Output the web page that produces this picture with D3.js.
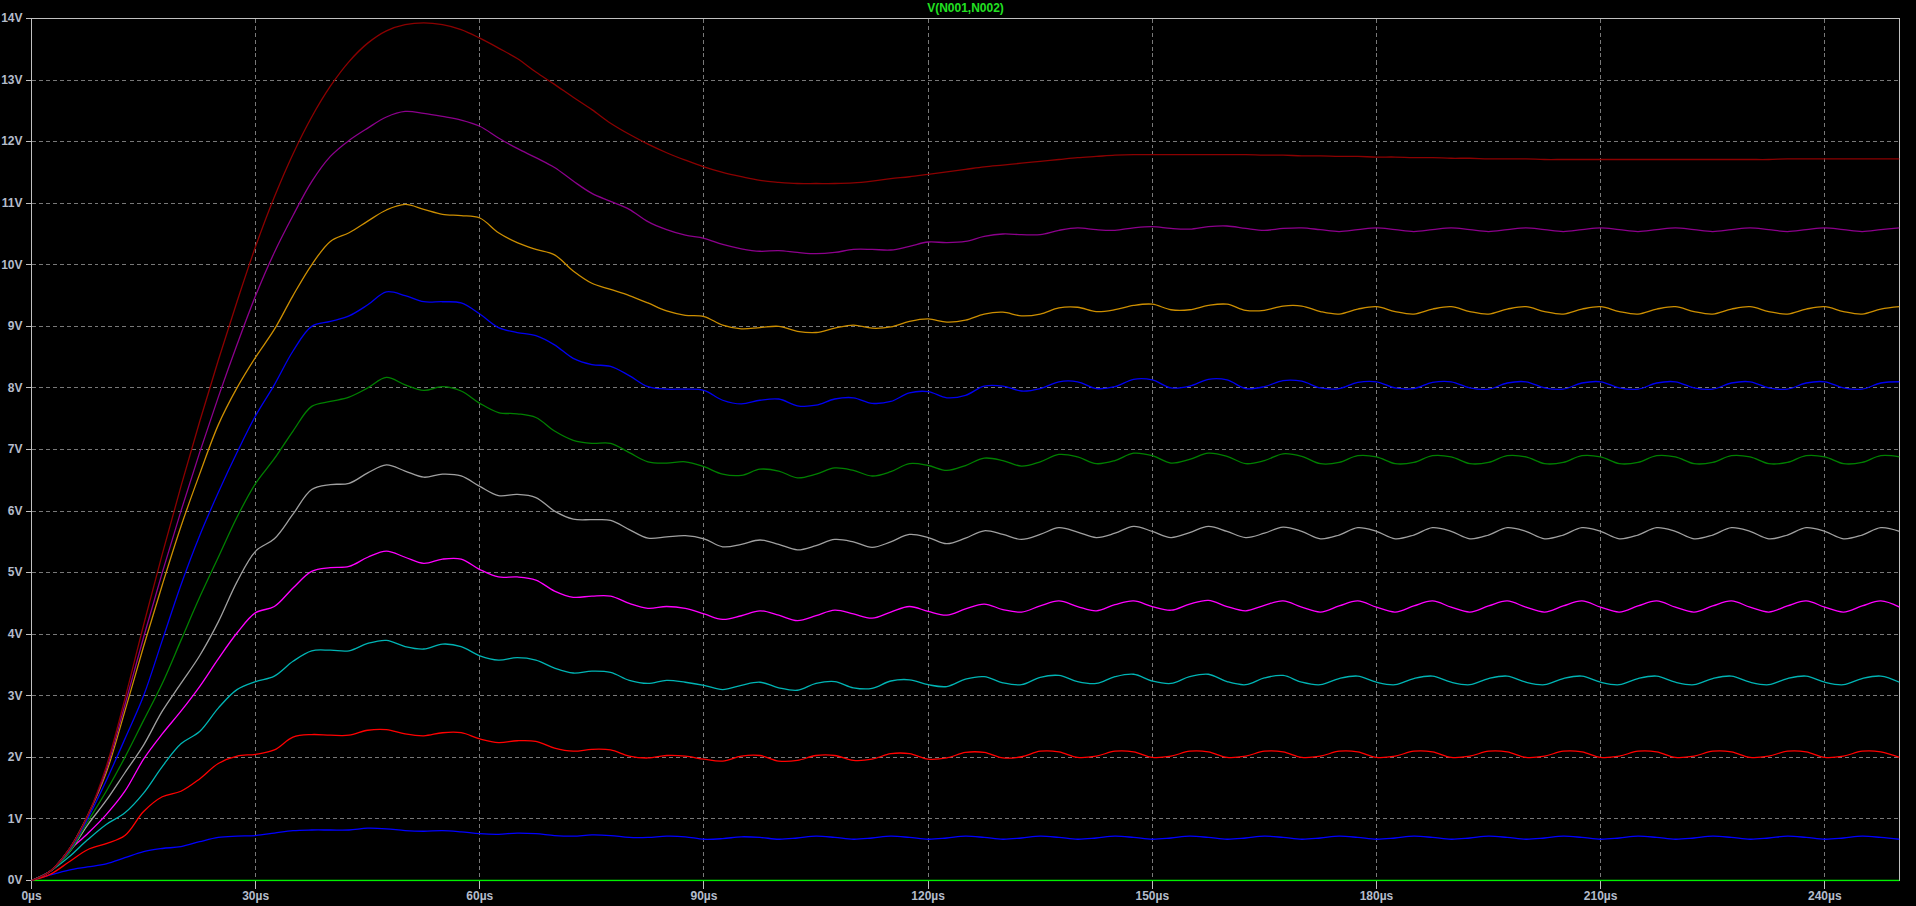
<!DOCTYPE html>
<html>
<head>
<meta charset="utf-8">
<title>V(N001,N002)</title>
<script src="https://cdn.jsdelivr.net/npm/d3@7"></script>
<style>
html, body { margin: 0; padding: 0; background: #000; overflow: hidden; }
svg { display: block; }
.tick text { font-family: "Liberation Sans", Arial, sans-serif; font-size: 12px; font-weight: bold; fill: #b4bccb; }
.tick line { stroke: #c0c0c0; shape-rendering: crispEdges; }
</style>
</head>
<body>
<svg id="chart" width="1916" height="906"></svg>
<script>
// axis ticks
var voltTicks = [0, 1, 2, 3, 4, 5, 6, 7, 8, 9, 10, 11, 12, 13, 14];
var timeTicks = [0, 30, 60, 90, 120, 150, 180, 210, 240];

// sample times (µs)
var times = [0, 2.5, 5, 7.5, 10, 12.5, 15, 17.5, 20, 22.5,
  25, 27.5, 30, 32.5, 35, 37.5, 40, 42.5, 45, 47.5,
  50, 52.5, 55, 57.5, 60, 62.5, 65, 67.5, 70, 72.5,
  75, 77.5, 80, 82.5, 85, 87.5, 90, 92.5, 95, 97.5,
  100, 102.5, 105, 107.5, 110, 112.5, 115, 117.5, 120, 122.5,
  125, 127.5, 130, 132.5, 135, 137.5, 140, 142.5, 145, 147.5,
  150, 152.5, 155, 157.5, 160, 162.5, 165, 167.5, 170, 172.5,
  175, 177.5, 180, 182.5, 185, 187.5, 190, 192.5, 195, 197.5,
  200, 202.5, 205, 207.5, 210, 212.5, 215, 217.5, 220, 222.5,
  225, 227.5, 230, 232.5, 235, 237.5, 240, 242.5, 245, 247.5,
  250];

var zeroTimes = [0, 250];
var vZero = [0, 0];

var vBlue = [0, 0.09, 0.17, 0.22, 0.27, 0.37, 0.47, 0.52, 0.55, 0.63,
  0.7, 0.72, 0.73, 0.77, 0.81, 0.82, 0.82, 0.82, 0.85, 0.84,
  0.81, 0.8, 0.81, 0.79, 0.76, 0.75, 0.77, 0.76, 0.73, 0.72,
  0.74, 0.73, 0.7, 0.7, 0.72, 0.71, 0.67, 0.68, 0.71, 0.7,
  0.67, 0.69, 0.72, 0.7, 0.67, 0.69, 0.72, 0.7, 0.67, 0.69,
  0.72, 0.7, 0.67, 0.69, 0.72, 0.7, 0.67, 0.69, 0.72, 0.7,
  0.67, 0.69, 0.72, 0.7, 0.67, 0.69, 0.72, 0.7, 0.67, 0.69,
  0.72, 0.7, 0.67, 0.69, 0.72, 0.7, 0.67, 0.69, 0.72, 0.7,
  0.67, 0.69, 0.72, 0.7, 0.67, 0.69, 0.72, 0.7, 0.67, 0.69,
  0.72, 0.7, 0.67, 0.69, 0.72, 0.7, 0.67, 0.69, 0.72, 0.7,
  0.67];

var vRed = [0, 0.1, 0.3, 0.5, 0.6, 0.73, 1.12, 1.36, 1.45, 1.65,
  1.9, 2.02, 2.05, 2.12, 2.33, 2.37, 2.36, 2.36, 2.44, 2.45,
  2.38, 2.35, 2.4, 2.4, 2.3, 2.24, 2.27, 2.26, 2.15, 2.1,
  2.13, 2.12, 2.02, 1.99, 2.03, 2.02, 1.97, 1.94, 2.02, 2.03,
  1.94, 1.95, 2.03, 2.03, 1.95, 1.97, 2.06, 2.06, 1.97, 1.99,
  2.08, 2.08, 1.99, 2.01, 2.1, 2.09, 2.0, 2.02, 2.1, 2.09,
  2.0, 2.02, 2.1, 2.09, 2.0, 2.02, 2.1, 2.09, 2.0, 2.02,
  2.1, 2.09, 2.0, 2.02, 2.1, 2.09, 2.0, 2.02, 2.1, 2.09,
  2.0, 2.02, 2.1, 2.09, 2.0, 2.02, 2.1, 2.09, 2.0, 2.02,
  2.1, 2.09, 2.0, 2.02, 2.1, 2.09, 2.0, 2.02, 2.1, 2.09,
  2.0];

var vCyan = [0, 0.15, 0.38, 0.66, 0.91, 1.1, 1.42, 1.85, 2.22, 2.42,
  2.8, 3.1, 3.23, 3.32, 3.56, 3.73, 3.74, 3.73, 3.85, 3.9,
  3.8, 3.76, 3.84, 3.8, 3.65, 3.58, 3.62, 3.58, 3.45, 3.37,
  3.4, 3.38, 3.25, 3.2, 3.25, 3.22, 3.17, 3.1, 3.17, 3.22,
  3.13, 3.09, 3.2, 3.23, 3.13, 3.12, 3.24, 3.26, 3.18, 3.15,
  3.27, 3.31, 3.21, 3.18, 3.3, 3.33, 3.23, 3.2, 3.31, 3.35,
  3.24, 3.2, 3.31, 3.35, 3.23, 3.18, 3.29, 3.33, 3.22, 3.18,
  3.28, 3.32, 3.22, 3.18, 3.28, 3.32, 3.22, 3.18, 3.28, 3.32,
  3.22, 3.18, 3.28, 3.32, 3.22, 3.18, 3.28, 3.32, 3.22, 3.18,
  3.28, 3.32, 3.22, 3.18, 3.28, 3.32, 3.22, 3.18, 3.28, 3.32,
  3.22];

var vMagenta = [0, 0.15, 0.48, 0.76, 1.07, 1.45, 1.97, 2.38, 2.75, 3.15,
  3.6, 4.02, 4.35, 4.45, 4.75, 5.02, 5.08, 5.1, 5.25, 5.35,
  5.25, 5.15, 5.22, 5.22, 5.05, 4.93, 4.93, 4.88, 4.7, 4.6,
  4.62, 4.62, 4.5, 4.42, 4.45, 4.42, 4.33, 4.24, 4.3, 4.38,
  4.31, 4.22, 4.3, 4.39, 4.33, 4.26, 4.36, 4.45, 4.37, 4.31,
  4.41, 4.49, 4.4, 4.36, 4.46, 4.54, 4.45, 4.38, 4.48, 4.54,
  4.45, 4.39, 4.49, 4.55, 4.45, 4.38, 4.47, 4.54, 4.44, 4.36,
  4.46, 4.54, 4.44, 4.36, 4.46, 4.54, 4.44, 4.36, 4.46, 4.54,
  4.44, 4.36, 4.46, 4.54, 4.44, 4.36, 4.46, 4.54, 4.44, 4.36,
  4.46, 4.54, 4.44, 4.36, 4.46, 4.54, 4.44, 4.36, 4.46, 4.54,
  4.44];

var vGray = [0, 0.15, 0.45, 0.9, 1.3, 1.75, 2.2, 2.75, 3.2, 3.65,
  4.2, 4.85, 5.35, 5.55, 5.95, 6.35, 6.43, 6.45, 6.62, 6.75,
  6.65, 6.55, 6.6, 6.57, 6.4, 6.25, 6.27, 6.22, 6.0, 5.87,
  5.86, 5.85, 5.7, 5.56, 5.58, 5.6, 5.55, 5.42, 5.46, 5.53,
  5.46, 5.37, 5.44, 5.54, 5.5, 5.41, 5.5, 5.62, 5.57, 5.47,
  5.56, 5.68, 5.62, 5.54, 5.62, 5.73, 5.66, 5.57, 5.64, 5.75,
  5.67, 5.57, 5.65, 5.75, 5.67, 5.57, 5.64, 5.74, 5.67, 5.55,
  5.61, 5.73, 5.67, 5.55, 5.61, 5.73, 5.67, 5.55, 5.61, 5.73,
  5.67, 5.55, 5.61, 5.73, 5.67, 5.55, 5.61, 5.73, 5.67, 5.55,
  5.61, 5.73, 5.67, 5.55, 5.61, 5.73, 5.67, 5.55, 5.61, 5.73,
  5.67];

var vGreen = [0, 0.15, 0.45, 0.95, 1.45, 2.0, 2.6, 3.2, 3.9, 4.6,
  5.25, 5.9, 6.45, 6.85, 7.3, 7.7, 7.78, 7.85, 8.0, 8.17,
  8.05, 7.96, 8.02, 7.95, 7.75, 7.6, 7.58, 7.52, 7.3, 7.15,
  7.1, 7.1, 6.95, 6.8, 6.78, 6.8, 6.72, 6.6, 6.58, 6.68,
  6.65, 6.54, 6.6, 6.7, 6.66, 6.57, 6.64, 6.77, 6.74, 6.66,
  6.74, 6.86, 6.82, 6.73, 6.8, 6.92, 6.88, 6.77, 6.82, 6.94,
  6.9, 6.78, 6.84, 6.94, 6.89, 6.77, 6.82, 6.93, 6.89, 6.77,
  6.79, 6.9, 6.88, 6.77, 6.79, 6.9, 6.88, 6.77, 6.79, 6.9,
  6.88, 6.77, 6.79, 6.9, 6.88, 6.77, 6.79, 6.9, 6.88, 6.77,
  6.79, 6.9, 6.88, 6.77, 6.79, 6.9, 6.88, 6.77, 6.79, 6.9,
  6.88];

var vBlue8 = [0, 0.15, 0.48, 1.0, 1.62, 2.3, 3.0, 3.9, 4.8, 5.6,
  6.3, 6.95, 7.55, 8.05, 8.6, 9.0, 9.08, 9.17, 9.35, 9.56,
  9.5, 9.4, 9.4, 9.38, 9.2, 8.98, 8.9, 8.85, 8.7, 8.48,
  8.38, 8.35, 8.2, 8.02, 7.98, 7.98, 7.96, 7.8, 7.74, 7.8,
  7.82, 7.71, 7.72, 7.82, 7.84, 7.75, 7.78, 7.92, 7.94, 7.84,
  7.88, 8.03, 8.03, 7.95, 7.99, 8.1, 8.1, 7.99, 8.02, 8.14,
  8.13, 8.0, 8.03, 8.14, 8.13, 7.99, 8.02, 8.12, 8.11, 8.0,
  7.99, 8.09, 8.1, 8.0, 7.99, 8.09, 8.1, 8.0, 7.98, 8.08,
  8.1, 8.0, 7.98, 8.08, 8.1, 8.0, 7.98, 8.08, 8.1, 8.0,
  7.98, 8.08, 8.1, 8.0, 7.98, 8.08, 8.1, 8.0, 7.98, 8.08,
  8.1];

var vOrange = [0, 0.15, 0.5, 1.05, 1.75, 2.75, 3.8, 4.8, 5.75, 6.6,
  7.4, 8.0, 8.5, 8.95, 9.5, 10.0, 10.38, 10.52, 10.71, 10.89,
  10.98, 10.9, 10.82, 10.8, 10.76, 10.52, 10.36, 10.25, 10.16, 9.9,
  9.7, 9.6, 9.5, 9.38, 9.25, 9.18, 9.16, 9.02, 8.96, 8.98,
  9.0, 8.92, 8.9, 8.97, 9.02, 8.97, 8.99, 9.08, 9.12, 9.07,
  9.1, 9.2, 9.23, 9.17, 9.2, 9.3, 9.31, 9.24, 9.27, 9.34,
  9.36, 9.27, 9.27, 9.34, 9.36, 9.26, 9.26, 9.33, 9.33, 9.24,
  9.2, 9.28, 9.32, 9.24, 9.2, 9.28, 9.32, 9.24, 9.2, 9.28,
  9.32, 9.24, 9.2, 9.28, 9.32, 9.24, 9.2, 9.28, 9.32, 9.24,
  9.2, 9.28, 9.32, 9.24, 9.2, 9.28, 9.32, 9.24, 9.2, 9.28,
  9.32];

var vPurple = [0, 0.15, 0.5, 1.05, 1.8, 2.85, 3.95, 5.0, 6.0, 6.95,
  7.85, 8.7, 9.5, 10.2, 10.8, 11.35, 11.76, 12.02, 12.22, 12.4,
  12.49, 12.46, 12.41, 12.35, 12.25, 12.06, 11.89, 11.74, 11.58, 11.36,
  11.16, 11.03, 10.9, 10.7, 10.57, 10.48, 10.43, 10.33, 10.26, 10.22,
  10.23, 10.2, 10.18, 10.2, 10.25, 10.25, 10.24, 10.3, 10.37, 10.36,
  10.38, 10.46, 10.5, 10.49, 10.49, 10.56, 10.6, 10.57, 10.56, 10.6,
  10.62, 10.59, 10.58, 10.62, 10.63, 10.59, 10.56, 10.59, 10.6, 10.57,
  10.54, 10.57, 10.6, 10.57, 10.54, 10.57, 10.6, 10.57, 10.54, 10.57,
  10.6, 10.57, 10.54, 10.57, 10.6, 10.57, 10.54, 10.57, 10.6, 10.57,
  10.54, 10.57, 10.6, 10.57, 10.54, 10.57, 10.6, 10.57, 10.54, 10.57,
  10.6];

var vDarkRed = [0, 0.15, 0.5, 1.05, 1.85, 2.95, 4.15, 5.3, 6.4, 7.45,
  8.45, 9.4, 10.3, 11.1, 11.8, 12.4, 12.9, 13.3, 13.6, 13.8,
  13.9, 13.93, 13.9, 13.82, 13.68, 13.52, 13.35, 13.13, 12.93, 12.72,
  12.52, 12.3, 12.12, 11.96, 11.82, 11.7, 11.59, 11.5, 11.43, 11.37,
  11.34, 11.32, 11.32, 11.32, 11.33, 11.36, 11.4, 11.43, 11.47, 11.51,
  11.55, 11.59, 11.62, 11.65, 11.68, 11.71, 11.74, 11.76, 11.78, 11.79,
  11.79, 11.79, 11.79, 11.79, 11.79, 11.79, 11.78, 11.78, 11.77, 11.77,
  11.76, 11.76, 11.75, 11.75, 11.74, 11.74, 11.73, 11.73, 11.72, 11.72,
  11.72, 11.71, 11.71, 11.71, 11.71, 11.71, 11.71, 11.71, 11.71, 11.71,
  11.71, 11.71, 11.71, 11.71, 11.72, 11.72, 11.72, 11.72, 11.72, 11.72,
  11.72];

var series = [
  { t: zeroTimes, v: vZero, color: "#00f000" },
  { t: times, v: vBlue, color: "#0000ff" },
  { t: times, v: vRed, color: "#ff0000" },
  { t: times, v: vCyan, color: "#00b4b4" },
  { t: times, v: vMagenta, color: "#ff00ff" },
  { t: times, v: vGray, color: "#a0a0a0" },
  { t: times, v: vGreen, color: "#008000" },
  { t: times, v: vBlue8, color: "#0000f0" },
  { t: times, v: vOrange, color: "#cc8e00" },
  { t: times, v: vPurple, color: "#8c008c" },
  { t: times, v: vDarkRed, color: "#8b0000" }
];

var svg = d3.select("#chart");
var x = d3.scaleLinear().domain([0, 250]).range([31.5, 1899.5]);
var y = d3.scaleLinear().domain([0, 14]).range([880.5, 18.5]);

svg.append("rect").attr("width", 1916).attr("height", 906).attr("fill", "#000");

// dashed grid
svg.append("g").selectAll("line")
  .data(voltTicks.filter(function(d){ return d > 0 && d < 14; }))
  .join("line")
  .attr("x1", x(0)).attr("x2", x(250))
  .attr("y1", function(d){ return y(d); }).attr("y2", function(d){ return y(d); })
  .attr("style", "stroke:#787878; stroke-width:1; stroke-dasharray:4,3; shape-rendering:crispEdges;");

svg.append("g").selectAll("line")
  .data(timeTicks.filter(function(d){ return d > 0; }))
  .join("line")
  .attr("x1", function(d){ return Math.round(x(d) - 0.5) + 0.5; })
  .attr("x2", function(d){ return Math.round(x(d) - 0.5) + 0.5; })
  .attr("y1", y(14)).attr("y2", y(0))
  .attr("style", "stroke:#787878; stroke-width:1; stroke-dasharray:4,3; shape-rendering:crispEdges;");

// axes
var yAxis = d3.axisLeft(y).tickValues(voltTicks)
  .tickFormat(function(d){ return d + "V"; })
  .tickSize(6).tickPadding(3).offset(0);
svg.append("g").attr("transform", "translate(" + x(0) + ",0)").call(yAxis)
  .call(function(g){ g.select(".domain").remove(); });

var xAxis = d3.axisBottom(x).tickValues(timeTicks)
  .tickFormat(function(d){ return d + "\u00b5s"; })
  .tickSize(8).tickPadding(3).offset(0);
svg.append("g").attr("transform", "translate(0," + y(0) + ")").call(xAxis)
  .call(function(g){ g.select(".domain").remove(); });

// frame
svg.append("rect")
  .attr("x", x(0)).attr("y", y(14))
  .attr("width", x(250) - x(0)).attr("height", y(0) - y(14))
  .attr("style", "fill:none; stroke:#c0c0c0; stroke-width:1; shape-rendering:crispEdges;");

svg.append("clipPath").attr("id", "plotclip").append("rect")
  .attr("x", x(0)).attr("y", y(14) - 1)
  .attr("width", x(250) - x(0)).attr("height", y(0) - y(14) + 2);

var line = d3.line()
  .x(function(d){ return x(d[0]); })
  .y(function(d){ return y(d[1]); })
  .curve(d3.curveCatmullRom.alpha(0.5));

svg.append("g").attr("clip-path", "url(#plotclip)")
  .selectAll("path").data(series).join("path")
  .attr("d", function(s){ return line(d3.zip(s.t, s.v)); })
  .attr("fill", "none")
  .attr("stroke", function(s){ return s.color; })
  .attr("stroke-width", 1.3);

// title
svg.append("text")
  .attr("x", (x(0) + x(250)) / 2).attr("y", 12)
  .attr("text-anchor", "middle")
  .attr("style", "font-family:'Liberation Sans', Arial, sans-serif; font-size:12px; font-weight:bold; fill:#22e022;")
  .text("V(N001,N002)");
</script>
</body>
</html>
